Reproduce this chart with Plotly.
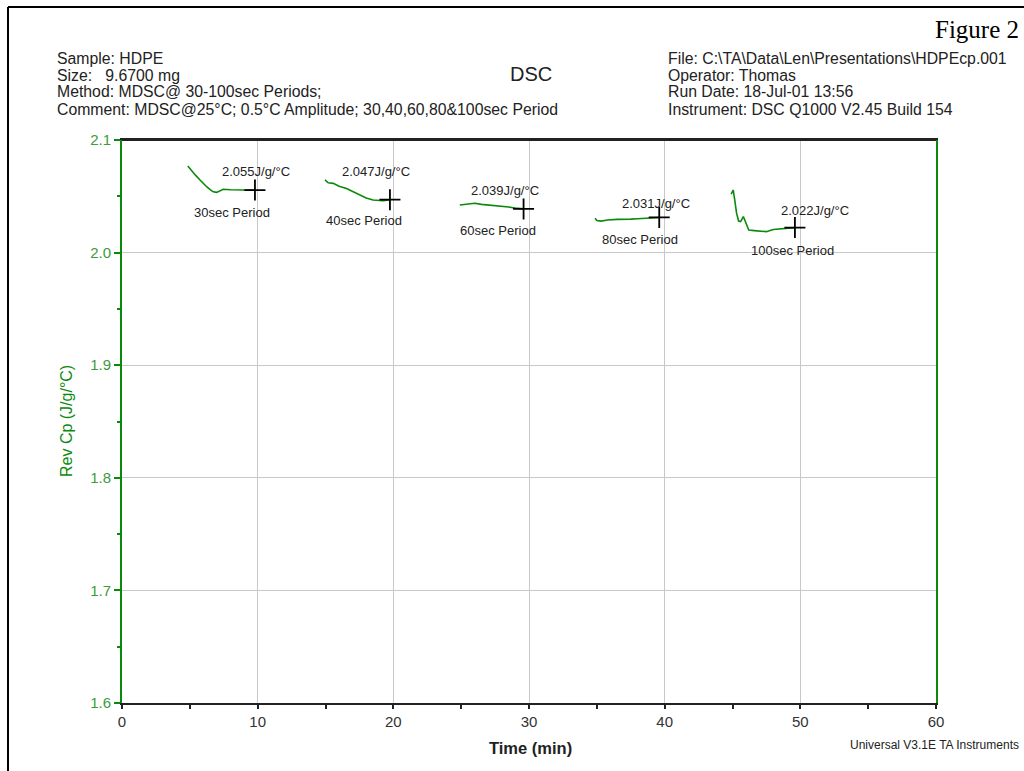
import plotly.graph_objects as go

# ---- data ----
t30 = [4.85, 5.1, 5.4, 5.75, 6.0, 6.24, 6.5, 6.73, 6.98, 7.22, 7.46, 8.0, 8.5, 9.0, 9.5, 9.8]
cp30 = [2.077, 2.073, 2.069, 2.0645, 2.061, 2.0585, 2.056, 2.054, 2.0535, 2.0547, 2.0562, 2.0558, 2.0557, 2.0557, 2.0556, 2.0555]

t40 = [14.96, 15.2, 15.57, 16.0, 16.55, 17.0, 17.54, 18.0, 18.5, 18.9, 19.26, 19.75]
cp40 = [2.0645, 2.062, 2.0615, 2.059, 2.057, 2.0545, 2.051, 2.0485, 2.0467, 2.0462, 2.046, 2.047]

t60 = [24.9, 25.2, 25.5, 26.0, 26.5, 27.0, 27.5, 28.0, 28.5, 29.0, 29.6]
cp60 = [2.0423, 2.0428, 2.0433, 2.0438, 2.0428, 2.0423, 2.0418, 2.041, 2.0405, 2.0395, 2.0388]

t80 = [34.87, 35.0, 35.3, 35.8, 36.5, 37.0, 37.5, 38.0, 38.5, 39.0, 39.6]
cp80 = [2.0305, 2.0285, 2.028, 2.029, 2.0295, 2.0293, 2.0297, 2.030, 2.0305, 2.031, 2.0312]

t100 = [44.9, 45.05, 45.15, 45.3, 45.45, 45.6, 45.8, 46.0, 46.2, 46.6, 47.0, 47.5, 48.0, 48.5, 49.0, 49.6]
cp100 = [2.052, 2.0556, 2.048, 2.035, 2.028, 2.0275, 2.032, 2.025, 2.020, 2.0195, 2.0192, 2.0186, 2.0205, 2.0212, 2.022, 2.0222]

cross_t = [9.8, 19.75, 29.6, 39.6, 49.6]
cross_cp = [2.0555, 2.047, 2.0388, 2.0312, 2.0222]

value_labels = ["2.055J/g/°C", "2.047J/g/°C", "2.039J/g/°C", "2.031J/g/°C", "2.022J/g/°C"]
value_t = [9.91, 18.72, 28.23, 39.36, 51.08]
value_cp = [2.0716, 2.0716, 2.055, 2.0438, 2.0372]

period_labels = ["30sec Period", "40sec Period", "60sec Period", "80sec Period", "100sec Period"]
period_t = [8.1, 17.83, 27.74, 38.18, 49.42]
period_cp = [2.0354, 2.0283, 2.020, 2.0119, 2.0017]

x_ticks = [0, 10, 20, 30, 40, 50, 60]
y_ticks = [1.6, 1.7, 1.8, 1.9, 2.0, 2.1]
y_tick_text = ["1.6", "1.7", "1.8", "1.9", "2.0", "2.1"]

header_left = ["Sample: HDPE", "Size:   9.6700 mg", "Method: MDSC@ 30-100sec Periods;",
               "Comment: MDSC@25°C; 0.5°C Amplitude; 30,40,60,80&amp;100sec Period"]
header_right = [r"File: C:\TA\Data\Len\Presentations\HDPEcp.001", "Operator: Thomas",
                "Run Date: 18-Jul-01 13:56", "Instrument: DSC Q1000 V2.45 Build 154"]

# ---- layout geometry (pixels) ----
W, H = 1024, 771
L, R, T, B = 122, 936, 140, 703
GREEN = "#0a8a0a"
LABEL_GREEN = "#3d9a3d"
FONT = "Liberation Sans, Arial, sans-serif"

def px(X):
    return (X - L) / (R - L)

def py(Y):
    return (B - Y) / (B - T)

fig = go.Figure()
for t, cp in [(t30, cp30), (t40, cp40), (t60, cp60), (t80, cp80), (t100, cp100)]:
    fig.add_trace(go.Scatter(x=t, y=cp, mode="lines", line=dict(color=GREEN, width=1.6),
                             showlegend=False, hoverinfo="skip"))
fig.add_trace(go.Scatter(x=cross_t, y=cross_cp, mode="markers",
                         marker=dict(symbol="cross-thin", size=15, line=dict(color="black", width=1.8)),
                         showlegend=False, hoverinfo="skip"))

ann = []
for txt, t, cp in zip(value_labels, value_t, value_cp):
    ann.append(dict(x=t, y=cp, xref="x", yref="y", text=txt, showarrow=False,
                    font=dict(family=FONT, size=13, color="#222")))
for txt, t, cp in zip(period_labels, period_t, period_cp):
    ann.append(dict(x=t, y=cp, xref="x", yref="y", text=txt, showarrow=False,
                    font=dict(family=FONT, size=13, color="#222")))

ys = [58, 75, 92, 109]
for txt, Y in zip(header_left, ys):
    ann.append(dict(x=px(55), y=py(Y), xref="paper", yref="paper", text=txt, showarrow=False,
                    xanchor="left", yanchor="middle", font=dict(family=FONT, size=15.8, color="#222")))
for txt, Y in zip(header_right, ys):
    ann.append(dict(x=px(666), y=py(Y), xref="paper", yref="paper", text=txt, showarrow=False,
                    xanchor="left", yanchor="middle", font=dict(family=FONT, size=15.8, color="#222")))
ann.append(dict(x=px(531), y=py(74), xref="paper", yref="paper", text="DSC", showarrow=False,
                xanchor="center", yanchor="middle", font=dict(family=FONT, size=20, color="#222")))
ann.append(dict(x=px(1021), y=py(30), xref="paper", yref="paper", text="Figure 2", showarrow=False,
                xanchor="right", yanchor="middle",
                font=dict(family="Liberation Serif, Times New Roman, serif", size=25, color="black")))
ann.append(dict(x=px(530), y=py(748), xref="paper", yref="paper", text="<b>Time (min)</b>", showarrow=False,
                xanchor="center", yanchor="middle", font=dict(family=FONT, size=16.5, color="#222")))
ann.append(dict(x=px(66), y=py(421), xref="paper", yref="paper", text="Rev Cp (J/g/°C)", showarrow=False,
                textangle=-90, xanchor="center", yanchor="middle", font=dict(family=FONT, size=16, color=GREEN)))
ann.append(dict(x=px(1021), y=py(745), xref="paper", yref="paper", text="Universal V3.1E TA Instruments",
                showarrow=False, xanchor="right", yanchor="middle", font=dict(family=FONT, size=12, color="#222")))

shapes = [
    dict(type="line", xref="paper", yref="paper", x0=px(8), x1=px(8), y0=py(7), y1=py(771),
         line=dict(color="black", width=2)),
    dict(type="line", xref="paper", yref="paper", x0=px(8), x1=px(1024), y0=py(7), y1=py(7),
         line=dict(color="black", width=2)),
    dict(type="line", xref="paper", yref="paper", x0=0, x1=1, y0=1, y1=1,
         line=dict(color="#222", width=2)),
]

fig.update_layout(
    width=W, height=H, autosize=False,
    margin=dict(l=L, r=W - R, t=T, b=H - B),
    paper_bgcolor="white", plot_bgcolor="white",
    annotations=ann, shapes=shapes,
    xaxis=dict(range=[0, 60], tickvals=x_ticks, ticks="outside", ticklen=4, tickwidth=2, tickcolor="#222",
               showgrid=True, gridcolor="#c8c8c8", gridwidth=1, zeroline=False,
               showline=True, linecolor="#222", linewidth=2, mirror=True,
               tickfont=dict(family=FONT, size=15, color="#333"),
               minor=dict(dtick=5, ticks="outside", ticklen=4, tickcolor="#222", showgrid=False)),
    yaxis=dict(range=[1.6, 2.1], tickvals=y_ticks, ticktext=y_tick_text, ticks="outside", ticklen=6,
               tickwidth=2, tickcolor=GREEN,
               showgrid=True, gridcolor="#c8c8c8", gridwidth=1, zeroline=False,
               showline=True, linecolor=GREEN, linewidth=2, mirror=True,
               tickfont=dict(family=FONT, size=15, color=LABEL_GREEN),
               minor=dict(dtick=0.05, ticks="outside", ticklen=3, tickcolor=GREEN, showgrid=False)),
)

fig.write_html("out.html", config={"displayModeBar": False},
               post_script="document.body.style.margin='0px';")
